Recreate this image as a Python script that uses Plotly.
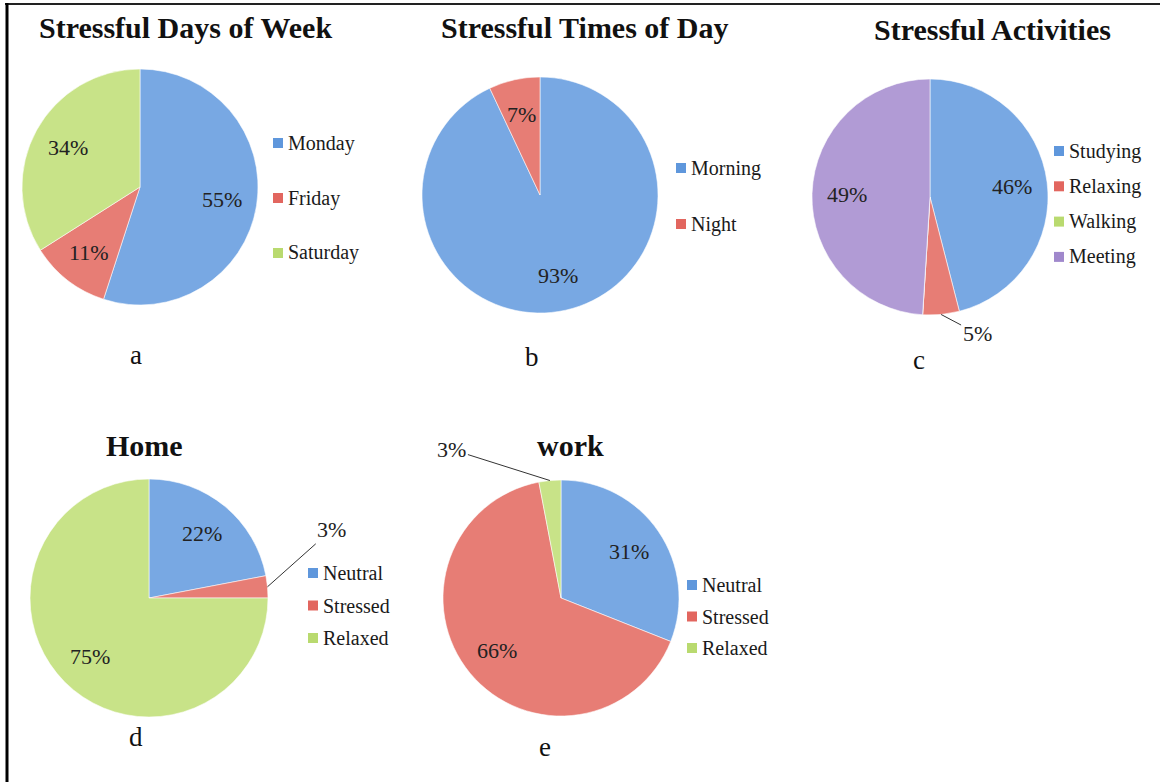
import math
import plotly.graph_objects as go

W, H = 1160, 782

# ---------------- data ----------------
days_labels = ["Monday", "Friday", "Saturday"]
days_values = [55, 11, 34]

times_labels = ["Morning", "Night"]
times_values = [93, 7]

act_labels = ["Studying", "Relaxing", "Walking", "Meeting"]
act_values = [46, 5, 0, 49]

home_labels = ["Neutral", "Stressed", "Relaxed"]
home_values = [22, 3, 75]

work_labels = ["Neutral", "Stressed", "Relaxed"]
work_values = [31, 66, 3]

titles = ["Stressful Days of Week", "Stressful Times of Day", "Stressful Activities", "Home", "work"]
panel_letters = ["a", "b", "c", "d", "e"]

# ---------------- styles ----------------
BLUE = "#78a8e3"
RED = "#e77d75"
GREEN = "#c8e388"
PURPLE = "#b19bd5"
LEG_BLUE = "#5f97dc"
LEG_RED = "#e2665f"
LEG_GREEN = "#b9da6f"
LEG_PURPLE = "#a088cc"
SERIF = "Liberation Serif, Times New Roman, serif"

panels = [
    dict(labels=days_labels, values=days_values, colors=[BLUE, RED, GREEN],
         legcolors=[LEG_BLUE, LEG_RED, LEG_GREEN],
         cx=140, cy=187, r=118, title_xy=(185, 27.5), letter_xy=(136, 355),
         leg=dict(mx=273, tx=286, y0=143, gap=55), outside={}),
    dict(labels=times_labels, values=times_values, colors=[BLUE, RED],
         legcolors=[LEG_BLUE, LEG_RED],
         cx=540, cy=195, r=118, title_xy=(585, 27.5), letter_xy=(532, 357),
         leg=dict(mx=676, tx=689, y0=168, gap=56), outside={}),
    dict(labels=act_labels, values=act_values, colors=[BLUE, RED, GREEN, PURPLE],
         legcolors=[LEG_BLUE, LEG_RED, LEG_GREEN, LEG_PURPLE],
         cx=930, cy=197, r=118, title_xy=(992, 29.5), letter_xy=(919, 360),
         leg=dict(mx=1054, tx=1067, y0=151, gap=35.3), outside={1: (36, 19)}),
    dict(labels=home_labels, values=home_values, colors=[BLUE, RED, GREEN],
         legcolors=[LEG_BLUE, LEG_RED, LEG_GREEN],
         cx=149, cy=598, r=119, title_xy=(144, 445.5), letter_xy=(136, 737),
         leg=dict(mx=308, tx=321, y0=573, gap=32.5), outside={1: (64, -57)}),
    dict(labels=work_labels, values=work_values, colors=[BLUE, RED, GREEN],
         legcolors=[LEG_BLUE, LEG_RED, LEG_GREEN],
         cx=561, cy=598, r=118, title_xy=(570, 445.5), letter_xy=(545, 747),
         leg=dict(mx=687, tx=700, y0=585, gap=31.5), outside={2: (-98, -31)}),
]


def px(x):
    return x / W


def py(y):
    return 1 - y / H


fig = go.Figure()
annotations = []
shapes = []

for i, p in enumerate(panels):
    cx, cy, r = p["cx"], p["cy"], p["r"]
    fig.add_trace(go.Pie(
        labels=p["labels"], values=p["values"],
        marker=dict(colors=p["colors"], line=dict(color="rgba(255,255,255,0.7)", width=0.8)),
        sort=False, direction="clockwise", rotation=0,
        textinfo="none", hoverinfo="label+value",
        domain=dict(x=[px(cx - r), px(cx + r)], y=[py(cy + r), py(cy - r)]),
        showlegend=False,
    ))

    # data labels computed from the values
    total = sum(p["values"])
    cum = 0
    for j, v in enumerate(p["values"]):
        mid = (cum + v / 2) / total * 2 * math.pi
        cum += v
        if v == 0:
            continue
        if j in p["outside"]:
            ax, ay = p["outside"][j]
            tx = cx + r * math.sin(mid)
            ty = cy - r * math.cos(mid)
            annotations.append(dict(
                x=px(tx), y=py(ty), xref="paper", yref="paper",
                text=f"{v}%", showarrow=True, ax=ax, ay=ay,
                arrowhead=0, arrowwidth=1, arrowcolor="#333", standoff=0,
                font=dict(family=SERIF, size=22, color="#222")))
        else:
            tx = cx + 0.7 * r * math.sin(mid)
            ty = cy - 0.7 * r * math.cos(mid)
            annotations.append(dict(
                x=px(tx), y=py(ty), xref="paper", yref="paper",
                text=f"{v}%", showarrow=False, xanchor="center", yanchor="middle",
                font=dict(family=SERIF, size=22, color="#222")))

    # title
    tx, ty = p["title_xy"]
    annotations.append(dict(
        x=px(tx), y=py(ty), xref="paper", yref="paper", text=f"<b>{titles[i]}</b>",
        showarrow=False, xanchor="center", yanchor="middle",
        font=dict(family=SERIF, size=30, color="#111")))

    # panel letter
    lx, ly = p["letter_xy"]
    annotations.append(dict(
        x=px(lx), y=py(ly), xref="paper", yref="paper", text=panel_letters[i],
        showarrow=False, xanchor="center", yanchor="middle",
        font=dict(family=SERIF, size=27, color="#111")))

    # legend
    lg = p["leg"]
    for j, lab in enumerate(p["labels"]):
        yy = lg["y0"] + j * lg["gap"]
        shapes.append(dict(
            type="rect", xref="paper", yref="paper",
            x0=px(lg["mx"]), x1=px(lg["mx"] + 10), y0=py(yy + 5), y1=py(yy - 5),
            fillcolor=p["legcolors"][j], line=dict(width=0)))
        annotations.append(dict(
            x=px(lg["tx"]), y=py(yy), xref="paper", yref="paper", text=lab,
            showarrow=False, xanchor="left", yanchor="middle",
            font=dict(family=SERIF, size=20, color="#1a1a1a")))

# frame lines (top and left)
shapes.append(dict(type="line", xref="paper", yref="paper",
                   x0=px(5), x1=1, y0=py(4), y1=py(4),
                   line=dict(color="#222", width=2)))
shapes.append(dict(type="line", xref="paper", yref="paper",
                   x0=px(7), x1=px(7), y0=py(3), y1=0,
                   line=dict(color="#000", width=3)))

fig.update_layout(
    width=W, height=H,
    margin=dict(l=0, r=0, t=0, b=0),
    paper_bgcolor="white", plot_bgcolor="white",
    annotations=annotations, shapes=shapes,
    showlegend=False,
)

fig.write_html("out.html", config={"displayModeBar": False},
               post_script="document.body.style.margin='0';")
